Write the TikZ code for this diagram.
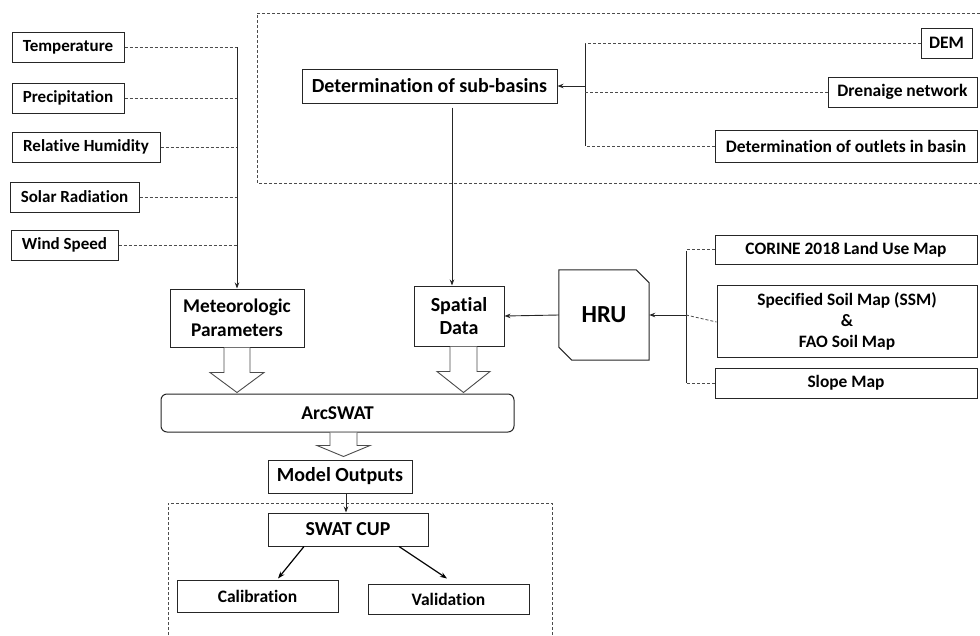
\documentclass[tikz,border=0pt]{standalone}
\usepackage{fontspec}
\setmainfont{Carlito}[Ligatures=NoCommon]
\usetikzlibrary{arrows.meta,calc}
\newcommand\fsz[2]{\fontsize{#1}{#2}\selectfont\bfseries}
\begin{document}
\begin{tikzpicture}[x=1pt,y=-1pt,
  box/.style={draw=black!85, line width=1pt, fill=white, inner sep=0pt, align=center},
  dsh/.style={draw=black!70, line width=0.8pt, dash pattern=on 3pt off 2pt},
  arr/.style={draw=black!85, line width=0.9pt, -{Stealth[length=6pt,width=4.5pt]}},
  arrb/.style={draw=black, line width=1.2pt, -{Stealth[length=7pt,width=5pt]}},
  hollow/.style={draw=black!70, line width=0.9pt, fill=white, line join=miter}]
\useasboundingbox (0,0) rectangle (980,635);

% dashed groups
\draw[dsh] (985,13) -- (257,13) -- (257,183) -- (985,183);
\draw[dsh] (168,640) -- (168,503) -- (552,503) -- (552,640);

% left inputs
\node[box, minimum width=112pt, minimum height=30pt, font=\fsz{17}{20}] (temp) at (68,47) {Temperature};
\node[box, minimum width=112pt, minimum height=30pt, font=\fsz{17}{20}] (prec) at (68,98) {Precipitation};
\node[box, minimum width=148pt, minimum height=30pt, font=\fsz{17}{20}] (rh) at (86,147) {Relative Humidity};
\node[box, minimum width=129pt, minimum height=30pt, font=\fsz{17}{20}] (solar) at (74.5,197) {Solar Radiation};
\node[box, minimum width=107pt, minimum height=30pt, font=\fsz{17}{20}] (wind) at (64.5,245) {Wind Speed};

\node[box, minimum width=134pt, minimum height=58pt, font=\fsz{19.4}{24}] (meteo) at (237,318) {Meteorologic\\Parameters};
\node[box, minimum width=90pt, minimum height=60pt, font=\fsz{20}{23}] (spat) at (459,316) {Spatial\\Data};

% sub-basins group
\node[box, minimum width=255pt, minimum height=34pt, font=\fsz{20}{24}] (sub) at (429.5,86) {Determination of sub-basins};
\node[box, minimum width=51pt, minimum height=30pt, font=\fsz{17.5}{21}] (dem) at (946.5,43) {DEM};
\node[box, minimum width=149pt, minimum height=30pt, font=\fsz{17.5}{21}] (dren) at (902.5,92) {Drenaige network};
\node[box, minimum width=262pt, minimum height=32pt, font=\fsz{17.5}{21}] (outl) at (846,146) {Determination of outlets in basin};

% HRU group
\node[minimum width=90pt, minimum height=90pt, inner sep=0pt, font=\fsz{24.5}{29}] (hru) at (604,315) {HRU};
\draw[draw=black!85, line width=1pt] (hru.north west) -- ([xshift=-13pt]hru.north east) -- ([yshift=-13pt]hru.north east) -- (hru.south east) -- ([xshift=13pt]hru.south west) -- ([yshift=13pt]hru.south west) -- cycle;
\node[box, minimum width=262pt, minimum height=29pt, font=\fsz{17.4}{20}] (corine) at (846,249.5) {CORINE 2018 Land Use Map};
\node[box, minimum width=260pt, minimum height=72pt, font=\fsz{17.4}{21}] (soil) at (847,321) {Specified Soil Map (SSM)\\\&\\FAO Soil Map};
\node[box, minimum width=262pt, minimum height=30pt, font=\fsz{17.4}{20}] (slope) at (846,383) {Slope Map};

% model chain
\node[box, rounded corners=6pt, minimum width=353pt, minimum height=38pt, font=\fsz{19.5}{23}] (arc) at (337.5,413) {ArcSWAT};
\node[box, minimum width=144pt, minimum height=33pt, font=\fsz{20}{24}] (mo) at (340,476.5) {Model Outputs};
\node[box, minimum width=160pt, minimum height=33pt, font=\fsz{19.8}{24}] (cup) at (348,529.5) {SWAT CUP};
\node[box, minimum width=161pt, minimum height=32pt, font=\fsz{17.5}{21}] (cal) at (257.5,596) {Calibration};
\node[box, minimum width=161pt, minimum height=30pt, font=\fsz{17.5}{21}] (val) at (448.5,599) {Validation};

% left bus
\coordinate (bus) at (237,47);
\foreach \n in {temp,prec,rh,solar,wind} \draw[dsh] (\n.east) -- (\n.east -| bus);
\draw[arr] (bus) -- (meteo.north);

% sub-basins bracket
\coordinate (sbt) at (585,43);
\coordinate (sbb) at (585,146);
\draw[draw=black!85, line width=0.9pt] (sbt) -- (sbb);
\draw[dsh] (dem.west) -- (dem.west -| sbt);
\draw[dsh] (dren.west) -- (dren.west -| sbt);
\draw[dsh] (outl.west) -- (outl.west -| sbt);
\draw[arr] (sub.east -| sbt) -- (sub.east);
\draw[arr] ([xshift=22.5pt,yshift=-4pt]sub.south) -- ([xshift=22.5pt]sub.south |- spat.north);

% HRU bracket
\coordinate (rbt) at (686,251);
\coordinate (rbb) at (686,383);
\draw[draw=black!85, line width=0.9pt] (rbt) -- (rbb);
\draw[dsh] (corine.west) -- (corine.west -| rbt);
\draw[dsh] (slope.west) -- (slope.west -| rbt);
\draw[dsh] (hru.east -| rbt) -- ([yshift=-1pt]soil.west);
\draw[arr] (hru.east -| rbt) -- (hru.east);
\draw[arr] (hru.west) -- (spat.east);

% hollow arrows
\coordinate (h1) at (meteo.south);
\draw[hollow] ($(h1)+(-13,0)$) -- ($(h1)+(-13,25)$) -- ($(h1)+(-27,25)$) -- ($(h1 |- arc.north)+(0,-1)$) -- ($(h1)+(27,25)$) -- ($(h1)+(13,25)$) -- ($(h1)+(13,0)$);
\coordinate (h2) at ($(spat.south)+(4.5,0)$);
\draw[hollow] ($(h2)+(-13.5,0)$) -- ($(h2)+(-13.5,25)$) -- ($(h2)+(-26.5,25)$) -- ($(h2 |- arc.north)+(0,-1)$) -- ($(h2)+(26.5,25)$) -- ($(h2)+(13.5,25)$) -- ($(h2)+(13.5,0)$);
\coordinate (h3) at ($(arc.south)+(6,0)$);
\draw[hollow] ($(h3)+(-13.5,0)$) -- ($(h3)+(-13.5,13)$) -- ($(h3)+(-26.5,13)$) -- ($(h3 |- mo.north)+(0,-3)$) -- ($(h3)+(26.5,13)$) -- ($(h3)+(13.5,13)$) -- ($(h3)+(13.5,0)$);

% lower arrows
\draw[arr] ([xshift=6pt]mo.south) -- ([xshift=6pt]mo.south |- cup.north);
\draw[arrb] ([xshift=-44pt]cup.south) -- ([xshift=20.5pt,yshift=1pt]cal.north);
\draw[arrb] ([xshift=51pt]cup.south) -- ([xshift=-1.5pt,yshift=5pt]val.north);
\end{tikzpicture}
\end{document}
